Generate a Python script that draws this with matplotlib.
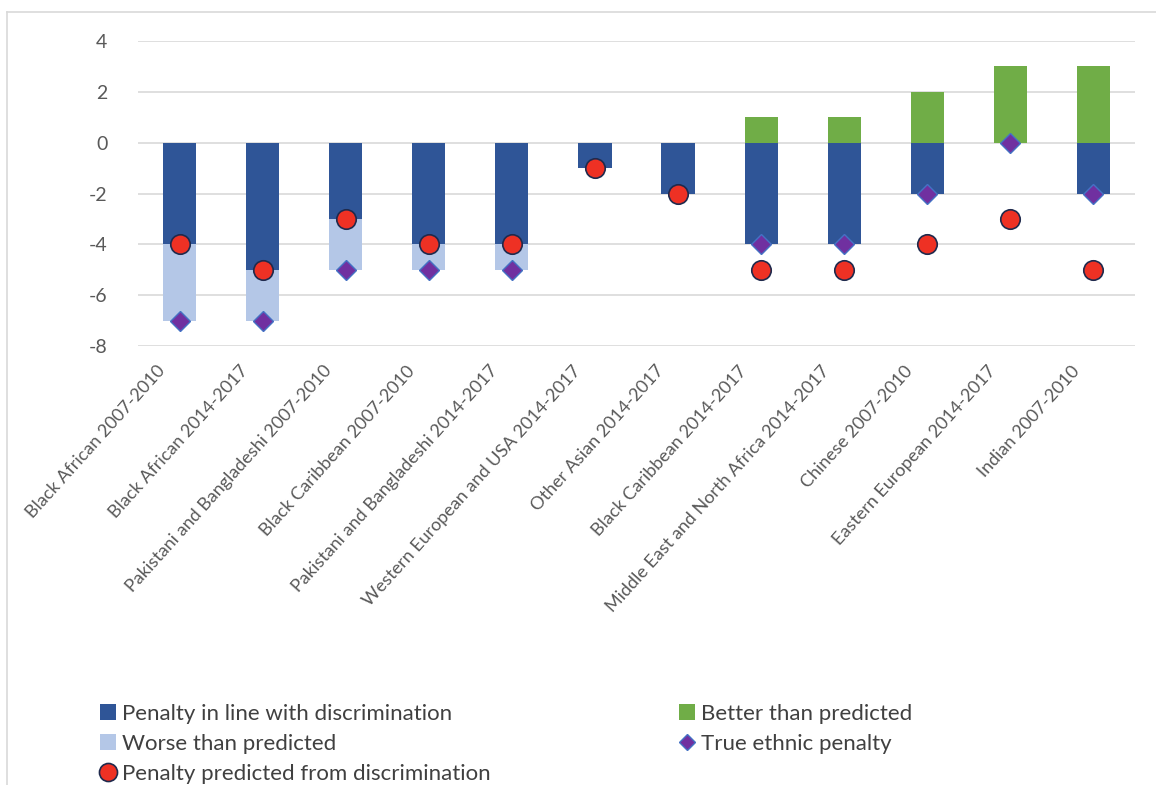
import matplotlib
matplotlib.use("Agg")
import matplotlib.pyplot as plt
from matplotlib.lines import Line2D
from matplotlib.patches import Patch
import matplotlib.transforms as mtransforms
import numpy as np

categories = [
    "Black African 2007-2010",
    "Black African 2014-2017",
    "Pakistani and Bangladeshi 2007-2010",
    "Black Caribbean 2007-2010",
    "Pakistani and Bangladeshi 2014-2017",
    "Western European and USA 2014-2017",
    "Other Asian 2014-2017",
    "Black Caribbean 2014-2017",
    "Middle East and North Africa 2014-2017",
    "Chinese 2007-2010",
    "Eastern European 2014-2017",
    "Indian 2007-2010",
]
penalty_in_line = [-4, -5, -3, -4, -4, -1, -2, -4, -4, -2, 0, -2]
worse_than_predicted = [-3, -2, -2, -1, -1, 0, 0, 0, 0, 0, 0, 0]
better_than_predicted = [0, 0, 0, 0, 0, 0, 0, 1, 1, 2, 3, 3]
predicted_penalty = [-4, -5, -3, -4, -4, -1, -2, -5, -5, -4, -3, -5]
true_penalty = [-7, -7, -5, -5, -5, -1, -2, -4, -4, -2, 0, -2]
yticks = [-8, -6, -4, -2, 0, 2, 4]

C_DARK = "#2F5597"
C_LIGHT = "#B4C7E7"
C_GREEN = "#70AD47"
C_RED = "#EE3124"
C_RED_EDGE = "#1F2A4D"
C_PURPLE = "#7030A0"
C_PURPLE_EDGE = "#4472C4"
TXT = "#595959"

plt.rcParams["font.family"] = ["Lato", "DejaVu Sans"]

fig = plt.figure(figsize=(11.56, 7.85), dpi=100)
ax = fig.add_axes([138/1156, 1-346/785, (1135-138)/1156, (346-41)/785])

x = np.arange(len(categories))
w = 0.4
ax.bar(x, penalty_in_line, width=w, color=C_DARK, zorder=2)
ax.bar(x, worse_than_predicted, width=w, bottom=penalty_in_line, color=C_LIGHT, zorder=2)
ax.bar(x, better_than_predicted, width=w, color=C_GREEN, zorder=2)
ax.plot(x, true_penalty, linestyle="none", marker="D", markersize=10.5,
        markerfacecolor=C_PURPLE, markeredgecolor=C_PURPLE_EDGE, markeredgewidth=1.0, zorder=3)
ax.plot(x, predicted_penalty, linestyle="none", marker="o", markersize=14,
        markerfacecolor=C_RED, markeredgecolor=C_RED_EDGE, markeredgewidth=1.2, zorder=4)

ax.set_xlim(-0.5, len(categories) - 0.5)
ax.set_ylim(-8, 4)
ax.set_yticks(yticks)
ax.set_yticklabels([str(v) for v in yticks], fontsize=14, color=TXT)
ax.grid(axis="y", color="#D9D9D9", linewidth=1.2, zorder=0)
ax.set_axisbelow(True)
for s in ax.spines.values():
    s.set_visible(False)
ax.tick_params(axis="both", length=0)
ax.tick_params(axis="y", pad=22)
ax.set_xticks(x)
ax.set_xticklabels(categories, rotation=48, ha="right", va="top",
                   rotation_mode="anchor", fontsize=13, color=TXT)
ax.tick_params(axis="x", pad=12)
offset = mtransforms.ScaledTranslation(-23/100, 0, fig.dpi_scale_trans)
for lab in ax.get_xticklabels():
    lab.set_transform(lab.get_transform() + offset)

# legends
h1 = [Patch(facecolor=C_DARK), Patch(facecolor=C_LIGHT),
      Line2D([], [], linestyle="none", marker="o", markersize=13,
             markerfacecolor=C_RED, markeredgecolor=C_RED_EDGE, markeredgewidth=1.2)]
l1 = ["Penalty in line with discrimination", "Worse than predicted",
      "Penalty predicted from discrimination"]
h2 = [Patch(facecolor=C_GREEN),
      Line2D([], [], linestyle="none", marker="D", markersize=8.5,
             markerfacecolor=C_PURPLE, markeredgecolor=C_PURPLE_EDGE)]
l2 = ["Better than predicted", "True ethnic penalty"]
kw = dict(frameon=False, fontsize=16, handlelength=0.7, handleheight=0.7,
          handletextpad=0.3, labelspacing=0.45, labelcolor="#404040",
          borderpad=0, borderaxespad=0)
fig.legend(h1, l1, loc="upper left", bbox_to_anchor=(100/1156, 1-704/785), **kw)
fig.legend(h2, l2, loc="upper left", bbox_to_anchor=(679/1156, 1-704/785), **kw)

# faint outer frame (top and left)
fig.add_artist(Line2D([7/1156, 1], [1-12/785, 1-12/785], color="#D9D9D9", linewidth=1.2))
fig.add_artist(Line2D([7/1156, 7/1156], [0, 1-12/785], color="#D9D9D9", linewidth=1.2))

fig.savefig("out.png", dpi=100, facecolor="white")
